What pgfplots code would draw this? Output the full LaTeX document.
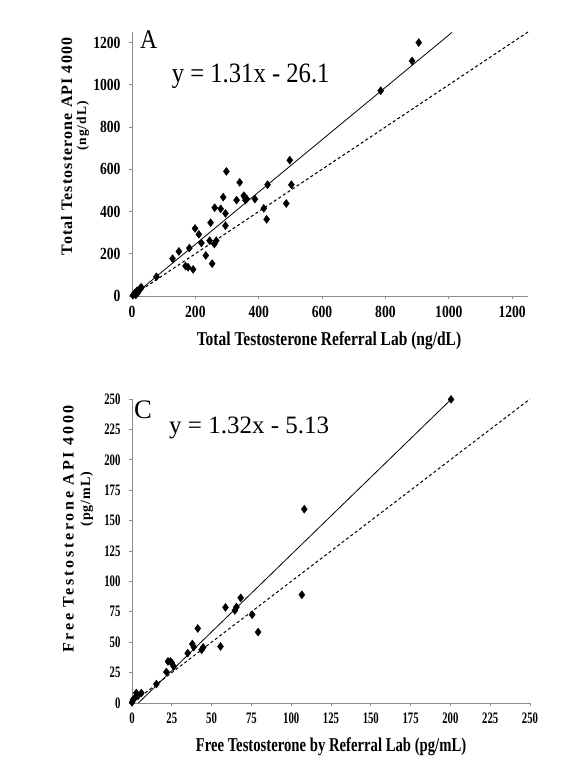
\documentclass[border=0pt]{standalone}
\usepackage{pgfplots}
\pgfplotsset{compat=1.18}
\usepackage{fontspec}
\setmainfont{Liberation Serif}
\newfontfamily\tickA{Liberation Serif}[FakeStretch=0.8]
\newfontfamily\tickC{Liberation Serif}[FakeStretch=0.67]
\newfontfamily\titleA{Liberation Serif}[FakeStretch=0.79]
\newfontfamily\titleC{Liberation Serif}[FakeStretch=0.75]
\newfontfamily\eqA{Liberation Serif}[FakeStretch=0.88]
\newfontfamily\ylabA{Liberation Serif}[LetterSpace=7]
\newfontfamily\ylabC{Liberation Serif}[LetterSpace=17]
\begin{document}
\begin{tikzpicture}
\useasboundingbox (0,0) rectangle (561pt,-777pt);
\pgfplotsset{
  myax/.style={
    scale only axis,
    axis x line=bottom, axis y line=left,
    axis line style={-, black!45, line width=0.8pt},
    tick style={black!45, line width=0.8pt},
    tick align=outside, major tick length=3pt,
    /pgf/number format/assume math mode=true,
    /pgf/number format/set thousands separator={},
    clip=false,
  },
}
% ---------- Panel A ----------
\begin{axis}[myax,
  at={(132pt,-296pt)}, anchor=south west,
  width=396pt, height=264pt,
  xmin=0, xmax=1250, ymin=0, ymax=1250,
  xtick={0,200,...,1200}, ytick={0,200,...,1200},
  ticklabel style={font=\tickA\bfseries\fontsize{17}{17}\selectfont},
  xticklabel style={yshift=-4pt},
  yticklabel style={xshift=-5pt},
]
\addplot[only marks, mark=diamond*, mark size=4, black] coordinates {
(905,1200) (884,1113) (785,972) (498,643) (503,527) (487,438) (428,527)
(425,363) (416,415) (388,459) (340,538) (353,475) (358,454) (330,454)
(298,590) (288,468) (280,413) (295,391) (261,418) (295,333) (248,347)
(199,320) (211,292) (219,251) (245,262) (260,246) (266,262) (233,192)
(253,153) (181,227) (148,211) (128,177) (169,142) (177,136) (193,126)
(77,91) (27,39) (16,25) (8,13) (3,3) (19,16) (24,32) (12,5) (30,40)
(355,470) (362,460)
};
\addplot[black, line width=0.8pt] coordinates {(2.4,0) (1010,1248)};
\addplot[black, line width=1pt, dash pattern=on 3pt off 2.5pt] coordinates {(0,0) (1250,1250)};
\end{axis}
% ---------- Panel C ----------
\begin{axis}[myax,
  at={(132pt,-703pt)}, anchor=south west,
  width=398pt, height=304pt,
  xmin=0, xmax=250, ymin=0, ymax=250,
  xtick={0,25,...,250}, ytick={0,25,...,250},
  ticklabel style={font=\tickC\bfseries\fontsize{16}{16}\selectfont},
  xticklabel style={yshift=-3pt},
  yticklabel style={xshift=-5pt},
]
\addplot[only marks, mark=diamond*, mark size=4, black] coordinates {
(200.4,249.7) (108.2,159.4) (106.7,89) (75.5,72.6) (79.2,58.3) (68.3,86.5)
(65.6,78.9) (64.6,76.1) (58.7,78.6) (55.6,46.5) (41.3,61.3) (37.9,48.5)
(38.8,46) (44.7,45.7) (43.8,43.8) (35,41) (24.1,34.2) (22.6,34.2)
(26.2,30) (21.6,25.5) (15.3,15.6) (5.9,8.2) (2.7,8.2) (1.7,4.1)
(0,0.5) (0.6,2.7) (3.8,6) (25,33)
};
\addplot[black, line width=0.8pt] coordinates {(4,0) (200.4,249.7)};
\addplot[black, line width=1pt, dash pattern=on 3pt off 2.5pt] coordinates {(0,0) (250,250)};
\end{axis}
% ---------- texts ----------
\node[anchor=north west, inner sep=0, font=\eqA\fontsize{27}{27}\selectfont] at (140pt,-30pt) {A};
\node[anchor=base west, inner sep=0, font=\eqA\fontsize{28}{28}\selectfont] at (171.7pt,-82.7pt) {y = 1.31x - 26.1};
\node[anchor=base, inner sep=0, font=\titleA\bfseries\fontsize{19.6}{20}\selectfont] at (329pt,-345pt) {Total Testosterone Referral Lab (ng/dL)};
\node[rotate=90, inner sep=0, font=\ylabA\bfseries\fontsize{16}{16}\selectfont] at (66.7pt,-146.5pt) {Total Testosterone API 4000};
\node[rotate=90, inner sep=0, font=\ylabA\bfseries\fontsize{13.5}{14}\selectfont] at (83pt,-126pt) {(ng/dL)};
\node[anchor=north west, inner sep=0, font=\fontsize{26.7}{27}\selectfont] at (134pt,-400.7pt) {C};
\node[anchor=base west, inner sep=0, font=\fontsize{25}{25}\selectfont] at (169pt,-433pt) {y = 1.32x - 5.13};
\node[anchor=base, inner sep=0, font=\titleC\bfseries\fontsize{19.6}{20}\selectfont] at (331pt,-751pt) {Free Testosterone by Referral Lab (pg/mL)};
\node[rotate=90, inner sep=0, font=\ylabC\bfseries\fontsize{16}{16}\selectfont] at (68.3pt,-529pt) {Free Testosterone API 4000};
\node[rotate=90, inner sep=0, font=\ylabA\bfseries\fontsize{14}{14}\selectfont] at (86.7pt,-499pt) {(pg/mL)};
\end{tikzpicture}
\end{document}
